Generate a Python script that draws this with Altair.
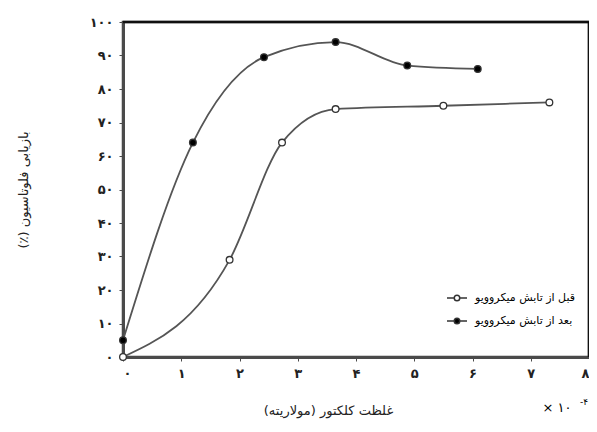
import altair as alt
import pandas as pd

# ---- data ----
series_names = ["قبل از تابش میکروویو", "بعد از تابش میکروویو"]
x_before = [0, 1.83, 2.73, 3.65, 5.5, 7.32]
y_before = [0, 29, 64, 74, 75, 76]
x_after = [0, 1.2, 2.42, 3.65, 4.88, 6.09]
y_after = [5, 64, 89.5, 94, 87, 86]

x_ticks = [0, 1, 2, 3, 4, 5, 6, 7, 8]
y_ticks = [0, 10, 20, 30, 40, 50, 60, 70, 80, 90, 100]

RLM = "\u200f"
x_title = RLM + "غلظت کلکتور (مولاریته)" + RLM
y_title = RLM + "بازیابی فلوتاسیون (٪)" + RLM
mult_text = "× ۱۰"
mult_exp = "-۴"

fa_digits = "۰۱۲۳۴۵۶۷۸۹"


def to_fa(n):
    return "".join(fa_digits[int(c)] for c in str(n))


def label_expr(vals):
    expr = "''"
    for v in reversed(vals):
        expr = f"datum.value == {v} ? '{to_fa(v)}' : ({expr})"
    return expr


df = pd.concat([
    pd.DataFrame({"x": x_before, "y": y_before, "s": series_names[0]}),
    pd.DataFrame({"x": x_after, "y": y_after, "s": series_names[1]}),
])

FONT = "DejaVu Sans"
W, H = 466, 335
FRAME = "#4a4a4a"
EDGE = "black"

x_enc = alt.X("x:Q", scale=alt.Scale(domain=[0, 8], nice=False), axis=alt.Axis(
    values=x_ticks, labelExpr=label_expr(x_ticks), title=x_title,
    titleX=205, titleY=53, titleBaseline="middle", titleAlign="center",
    grid=False, tickSize=4, labelPadding=6, labelFontSize=13,
    labelFontWeight="bold", titleFontSize=13, titleFontWeight="normal",
    domainColor=FRAME, domainWidth=3, tickColor=FRAME))
y_enc = alt.Y("y:Q", scale=alt.Scale(domain=[0, 100], nice=False), axis=alt.Axis(
    values=y_ticks, labelExpr=label_expr(y_ticks), title=y_title,
    titleX=-100, titleY=H / 2, titleBaseline="middle", titleAlign="center",
    grid=False, tickSize=4, labelPadding=6, labelFontSize=13,
    labelFontWeight="bold", titleFontSize=13, titleFontWeight="normal",
    domainColor=FRAME, domainWidth=3, tickColor=FRAME))

one = pd.DataFrame({"k": [0]})
top_edge = alt.Chart(one).mark_rule(color=EDGE, strokeWidth=2.5, opacity=0.75).encode(
    x=alt.value(0), x2=alt.value(W), y=alt.value(0))
right_edge = alt.Chart(one).mark_rule(color=EDGE, strokeWidth=2.5, opacity=0.75).encode(
    x=alt.value(W), y=alt.value(0), y2=alt.value(H))

lines = alt.Chart(df).mark_line(interpolate="monotone", strokeWidth=1.8).encode(
    x=x_enc, y=y_enc,
    detail="s:N",
    color=alt.value("#555555"),
)

legend_path = ("M-2,0 H-0.55 M0.55,0 H2 "
               "M-0.55,0 A0.55,0.55 0 1,0 0.55,0 A0.55,0.55 0 1,0 -0.55,0 Z")

points = alt.Chart(df).mark_point(filled=False, size=45, strokeWidth=1.3, opacity=1).encode(
    x=x_enc, y=y_enc,
    fill=alt.Fill("s:N", scale=alt.Scale(domain=series_names, range=["white", "black"]),
                  legend=alt.Legend(title=None, orient="none", legendX=328, legendY=270,
                                    symbolType=legend_path, symbolSize=100,
                                    symbolStrokeColor="#333333", symbolStrokeWidth=1.5,
                                    labelOffset=12, labelFontSize=11, labelFont=FONT,
                                    rowPadding=11, symbolOpacity=1)),
    stroke=alt.value("#333333"),
)

mult = alt.Chart(pd.DataFrame({"t": [mult_text]})).mark_text(
    fontSize=13, font=FONT, align="center", baseline="middle").encode(
    x=alt.value(434), y=alt.value(386), text="t:N")
mult_sup = alt.Chart(pd.DataFrame({"t": [mult_exp]})).mark_text(
    fontSize=9, font=FONT, align="center", baseline="middle").encode(
    x=alt.value(461), y=alt.value(380), text="t:N")

chart = alt.layer(lines, points, top_edge, right_edge, mult, mult_sup).properties(
    width=W, height=H,
    background="white",
    autosize=alt.AutoSizeParams(type="none"),
    padding={"left": 115, "top": 14, "right": 0, "bottom": 62},
).configure_view(
    stroke=EDGE, strokeWidth=2.5, strokeOpacity=0.75
).configure_axis(
    labelFont=FONT, titleFont=FONT, labelColor="#222222", titleColor="#222222"
)

chart.save("out.html", embed_options={"renderer": "svg", "actions": False})
